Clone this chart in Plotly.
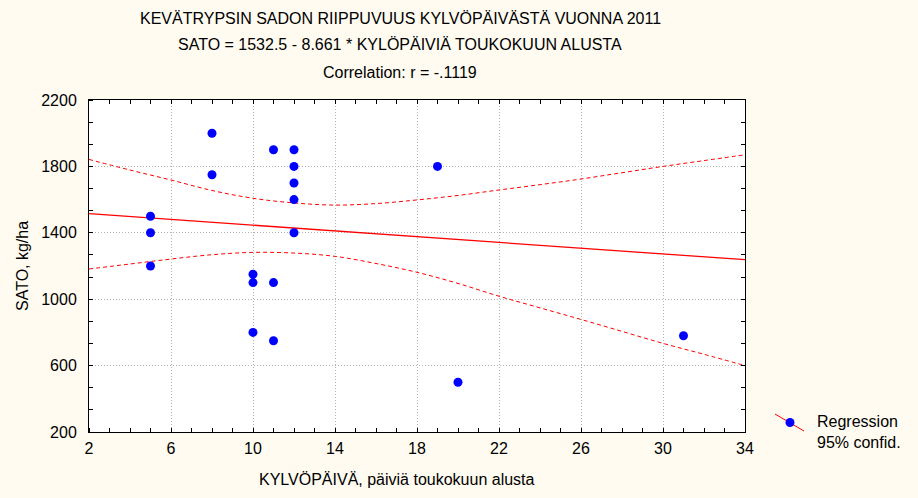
import plotly.graph_objects as go

# ---- data ----
sow_day = [5, 5, 5, 8, 8, 10, 10, 10, 11, 11, 11, 12, 12, 12, 12, 12, 19, 20, 31]
yield_kg = [1500, 1400, 1200, 2000, 1750, 1150, 1100, 800, 1900, 1100, 750,
            1900, 1800, 1700, 1600, 1400, 1800, 500, 780]

reg_x = [2, 34]
reg_y = [1515.2, 1238.0]

band_x = [2, 4, 6, 8, 10, 12, 14, 16, 18, 20, 22, 24, 26, 28, 30, 32, 34]
band_upper = [1842, 1778, 1718, 1655, 1608, 1580, 1567, 1576, 1598, 1625,
              1658, 1690, 1724, 1762, 1800, 1835, 1870]
band_lower = [1182, 1212, 1242, 1268, 1282, 1278, 1258, 1215, 1162, 1095,
              1018, 948, 878, 806, 734, 668, 600]

x_ticks = [2, 6, 10, 14, 18, 22, 26, 30, 34]
y_ticks = [200, 600, 1000, 1400, 1800, 2200]

title_lines = ["KEVÄTRYPSIN SADON RIIPPUVUUS KYLVÖPÄIVÄSTÄ VUONNA 2011",
               "SATO = 1532.5 - 8.661 * KYLÖPÄIVIÄ TOUKOKUUN ALUSTA",
               "Correlation: r = -.1119"]

FONT = "Liberation Sans, Arial, sans-serif"
FS = 16
RED = "#FF0000"
BLUE = "#0000FF"
GRID = "#B4B4B4"

fig = go.Figure()
fig.add_trace(go.Scatter(x=band_x, y=band_upper, mode="lines", line=dict(color=RED, width=1, dash="4px,3px", shape="spline"),
                         showlegend=False, hoverinfo="skip"))
fig.add_trace(go.Scatter(x=band_x, y=band_lower, mode="lines", line=dict(color=RED, width=1, dash="4px,3px", shape="spline"),
                         showlegend=False, hoverinfo="skip"))
fig.add_trace(go.Scatter(x=reg_x, y=reg_y, mode="lines", line=dict(color=RED, width=1.3),
                         showlegend=False))
fig.add_trace(go.Scatter(x=sow_day, y=yield_kg, mode="markers",
                         marker=dict(color=BLUE, size=9, line=dict(width=0)),
                         showlegend=False))
# invisible trace that carries the mirrored (top / right) tick axes
fig.add_trace(go.Scatter(x=reg_x, y=reg_y, xaxis="x2", yaxis="y2", mode="lines",
                         line=dict(width=0, color="rgba(0,0,0,0)"), showlegend=False, hoverinfo="skip"))

L, R, T, B = 89, 173, 100, 66
W, H = 918, 498
pw, ph = W - L - R, H - T - B

def px_x(p):
    return (p - L) / pw

def px_y(p):
    return (H - B - p) / ph

annotations = []
for txt, yy in zip(title_lines, [18, 45, 72]):
    annotations.append(dict(text=txt, x=px_x(400), y=px_y(yy), xref="paper", yref="paper",
                            showarrow=False, xanchor="center", yanchor="middle",
                            font=dict(family=FONT, size=FS, color="black")))
annotations.append(dict(text="KYLVÖPÄIVÄ, päiviä toukokuun alusta", x=px_x(397), y=px_y(479),
                        xref="paper", yref="paper", showarrow=False, xanchor="center", yanchor="middle",
                        font=dict(family=FONT, size=FS, color="black")))
annotations.append(dict(text="SATO, kg/ha", x=px_x(22), y=px_y(266), xref="paper", yref="paper",
                        showarrow=False, textangle=-90, xanchor="center", yanchor="middle",
                        font=dict(family=FONT, size=FS, color="black")))
annotations.append(dict(text="Regression<br>95% confid.", x=px_x(815), y=px_y(432),
                        xref="paper", yref="paper", showarrow=False, xanchor="left", yanchor="middle",
                        align="left", font=dict(family=FONT, size=FS, color="black")))

shapes = [
    dict(type="line", xref="paper", yref="paper", x0=px_x(775), y0=px_y(414), x1=px_x(804), y1=px_y(431),
         line=dict(color=RED, width=1)),
    dict(type="circle", xref="paper", yref="paper", x0=px_x(785.5), x1=px_x(794.5), y0=px_y(418), y1=px_y(427),
         fillcolor=BLUE, line=dict(color=BLUE, width=0)),
]

fig.update_layout(
    width=W, height=H,
    margin=dict(l=L, r=R, t=T, b=B, pad=0),
    paper_bgcolor="#FFFBF0",
    plot_bgcolor="white",
    font=dict(family=FONT, size=FS, color="black"),
    annotations=annotations,
    shapes=shapes,
    showlegend=False,
    xaxis=dict(range=[2, 34], tickvals=x_ticks, ticks="", showgrid=True,
               gridcolor=GRID, griddash="1px,2px", gridwidth=1,
               showline=True, linecolor="black", linewidth=1, mirror=True,
               zeroline=False, tickfont=dict(size=FS), ticklabelstandoff=2,
               minor=dict(dtick=1, tick0=2, ticks="inside", ticklen=4, tickcolor="black", showgrid=False)),
    yaxis=dict(range=[200, 2200], tickvals=y_ticks, ticks="", showgrid=True,
               gridcolor=GRID, griddash="1px,2px", gridwidth=1,
               showline=True, linecolor="black", linewidth=1, mirror=True,
               zeroline=False, tickfont=dict(size=FS), ticklabelstandoff=8,
               minor=dict(dtick=400 / 3, tick0=200, ticks="inside", ticklen=4, tickcolor="black", showgrid=False)),
    xaxis2=dict(range=[2, 34], overlaying="x", side="top", showticklabels=False, showgrid=False,
                zeroline=False, showline=False, tickvals=x_ticks, ticks="inside", ticklen=4, tickcolor="black",
                minor=dict(dtick=1, tick0=2, ticks="inside", ticklen=4, tickcolor="black", showgrid=False)),
    yaxis2=dict(range=[200, 2200], overlaying="y", side="right", showticklabels=False, showgrid=False,
                zeroline=False, showline=False, tickvals=y_ticks, ticks="inside", ticklen=4, tickcolor="black",
                minor=dict(dtick=400 / 3, tick0=200, ticks="inside", ticklen=4, tickcolor="black", showgrid=False)),
)

fig.write_html("out.html", config={"displayModeBar": False},
               post_script="document.body.style.margin='0';document.body.style.padding='0';")
